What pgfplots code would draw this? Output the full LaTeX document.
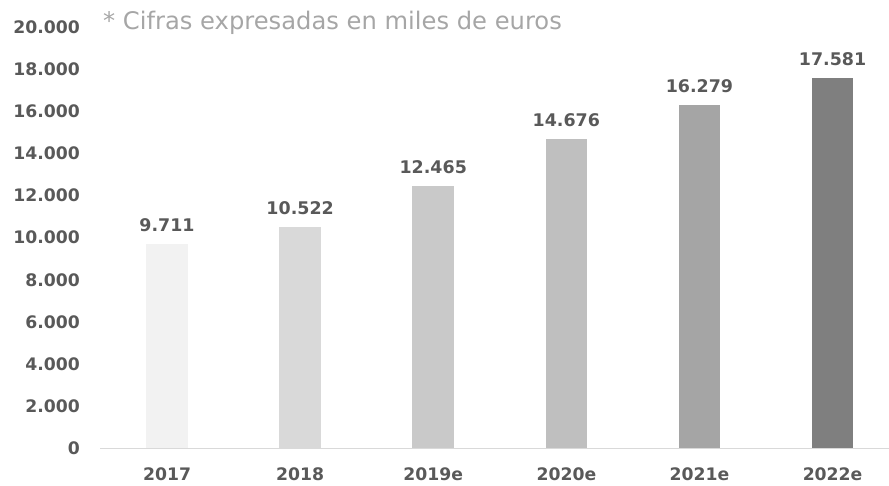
\documentclass[border=0pt]{standalone}
\usepackage{pgfplots}
\pgfplotsset{compat=1.18}
\usepackage{fontspec}
\setmainfont{DejaVu Sans}
\definecolor{lab}{HTML}{595959}
\definecolor{ttl}{HTML}{A6A6A6}
\definecolor{axl}{HTML}{D9D9D9}
\definecolor{c1}{HTML}{F2F2F2}
\definecolor{c2}{HTML}{D9D9D9}
\definecolor{c3}{HTML}{C9C9C9}
\definecolor{c4}{HTML}{BFBFBF}
\definecolor{c5}{HTML}{A5A5A5}
\definecolor{c6}{HTML}{7F7F7F}
\begin{document}
\begin{tikzpicture}[x=1bp,y=1bp]
\path[use as bounding box] (0,0) rectangle (889,486);
\begin{axis}[
  at={(100.45bp,37.7bp)}, anchor=south west,
  scale only axis, width=788.55bp, height=421.3bp,
  xmin=-0.5, xmax=5.424, ymin=0, ymax=20000,
  clip=false,
  axis x line*=bottom, axis y line*=left,
  y axis line style={draw=none},
  x axis line style={draw=axl, line width=1.3bp, -},
  major tick length=0,
  xtick={0,1,2,3,4,5},
  xticklabels={2017,2018,2019e,2020e,2021e,2022e},
  ytick={0,2000,...,20000},
  scaled y ticks=false,
  /pgf/number format/.cd, fixed, precision=0, 1000 sep={.}, min exponent for 1000 sep=0, assume math mode=true, /pgfplots/.cd,
  tick label style={font=\fontsize{17.3}{20}\selectfont\bfseries, text=lab},
  yticklabel style={anchor=east, inner sep=0pt, xshift=-20.3bp},
  xticklabel style={anchor=north, inner sep=0pt, yshift=-19.7bp},
  ybar, bar width=41.7bp, bar shift=0pt,
  nodes near coords,
  every node near coord/.append style={font=\fontsize{17.5}{20}\selectfont\bfseries, text=lab, anchor=south, inner sep=0pt, yshift=12bp},
]
\addplot[fill=c1, draw=none] coordinates {(0,9711)};
\addplot[fill=c2, draw=none] coordinates {(1,10522)};
\addplot[fill=c3, draw=none] coordinates {(2,12465)};
\addplot[fill=c4, draw=none] coordinates {(3,14676)};
\addplot[fill=c5, draw=none] coordinates {(4,16279)};
\addplot[fill=c6, draw=none] coordinates {(5,17581)};
\end{axis}
\node[anchor=base west, inner sep=0pt, text=ttl, font=\fontsize{24.3}{27}\selectfont] at (103,456) {* Cifras expresadas en miles de euros};
\end{tikzpicture}
\end{document}
